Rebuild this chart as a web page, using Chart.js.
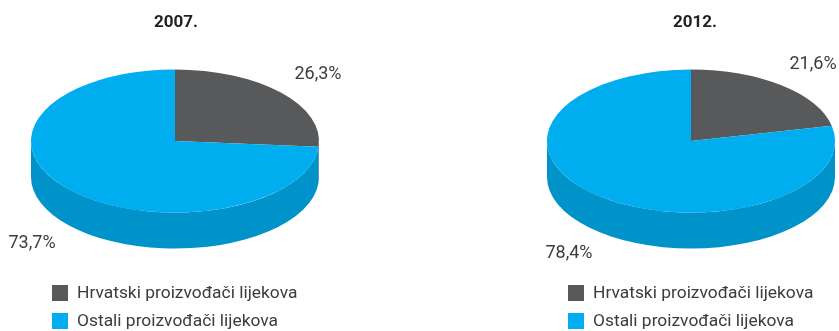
<!DOCTYPE html>
<html>
<head>
<meta charset="utf-8">
<script src="https://cdn.jsdelivr.net/npm/chart.js@4"></script>
<style>
  body { margin: 0; background: #fff; }
  #wrap { position: relative; width: 839px; height: 331px; overflow: hidden; }
  canvas { position: absolute; top: 0; }
</style>
</head>
<body>
<div id="wrap">
  <canvas id="pie2007" width="420" height="331" style="left:0"></canvas>
  <canvas id="pie2012" width="419" height="331" style="left:420px"></canvas>
</div>
<script>
const categories = ['Hrvatski proizvođači lijekova', 'Ostali proizvođači lijekova'];
const years = ['2007.', '2012.'];
const share2007 = [26.3, 73.7];
const share2012 = [21.6, 78.4];

const topColors = ['#58595b', '#00aeef'];
const sideColors = ['#48494b', '#0093c9'];
const FONT = 'Roboto, "DejaVu Sans", sans-serif';

// Flattened pie with a side wall: the wall is painted first, then the
// library's own arcs are drawn under a vertical squash.
const pie3d = {
  id: 'pie3d',
  beforeDatasetsDraw(chart, args, opts) {
    const ctx = chart.ctx;
    const arcs = chart.getDatasetMeta(0).data;
    const R = arcs[0].outerRadius, x0 = arcs[0].x, y0 = arcs[0].y;
    const ry = R * opts.tilt;
    arcs.forEach((arc, i) => {
      // only the front half (0..PI) of the wall is visible
      const a0 = Math.max(arc.startAngle, 0);
      const a1 = Math.min(arc.endAngle, Math.PI);
      if (a1 <= a0) return;
      ctx.beginPath();
      ctx.ellipse(x0, opts.cy + opts.depth, R, ry, 0, a0, a1);
      ctx.ellipse(x0, opts.cy, R, ry, 0, a1, a0, true);
      ctx.closePath();
      ctx.fillStyle = sideColors[i];
      ctx.fill();
    });
    ctx.save();
    ctx.translate(0, opts.cy);
    ctx.scale(1, opts.tilt);
    ctx.translate(0, -y0);
  },
  afterDatasetsDraw(chart) {
    chart.ctx.restore();
  },
  afterDraw(chart, args, opts) {
    const ctx = chart.ctx;
    const arcs = chart.getDatasetMeta(0).data;
    const values = chart.data.datasets[0].data;
    const R = arcs[0].outerRadius, x0 = arcs[0].x;
    const ry = R * opts.tilt;
    ctx.save();

    // year heading
    ctx.font = 'bold 17px ' + FONT;
    ctx.fillStyle = '#231f20';
    ctx.textAlign = 'center';
    ctx.textBaseline = 'middle';
    ctx.fillText(opts.title, opts.titleX, 23);

    // percentage labels outside each slice
    ctx.font = '18px ' + FONT;
    ctx.fillStyle = '#3c3c3e';
    arcs.forEach((arc, i) => {
      const mid = (arc.startAngle + arc.endAngle) / 2;
      const nx = Math.cos(mid), ny = Math.sin(mid);
      const x = x0 + 1.35 * R * nx;
      const y = opts.cy + 1.37 * ry * ny + (ny > 0 ? opts.depth : 0);
      ctx.fillText(values[i].toFixed(1).replace('.', ',') + '%', x, y);
    });

    // legend
    ctx.font = '17.4px ' + FONT;
    ctx.textAlign = 'left';
    chart.data.labels.forEach((label, i) => {
      const y = opts.legendY + i * 28;
      ctx.fillStyle = topColors[i];
      ctx.fillRect(opts.legendX, y - 8, 16, 16);
      ctx.fillStyle = '#3c3c3e';
      ctx.fillText(label, opts.legendX + 25, y + 1);
    });
    ctx.restore();
  }
};

function makePie(id, values, title, padLeft, padRight, titleX, legendX) {
  return new Chart(document.getElementById(id), {
    type: 'pie',
    data: {
      labels: categories,
      datasets: [{
        data: values,
        backgroundColor: topColors,
        borderWidth: 0
      }]
    },
    options: {
      responsive: false,
      animation: false,
      events: [],
      layout: { padding: { left: padLeft, right: padRight, top: 22, bottom: 21 } },
      plugins: {
        legend: { display: false },
        tooltip: { enabled: false },
        pie3d: { title: title, titleX: titleX, cy: 141, tilt: 0.497, depth: 36,
                 legendX: legendX, legendY: 293 }
      }
    },
    plugins: [pie3d]
  });
}

makePie('pie2007', share2007, years[0], 31, 101, 176, 52);
makePie('pie2012', share2012, years[1], 127, 4, 275, 148);
</script>
</body>
</html>
